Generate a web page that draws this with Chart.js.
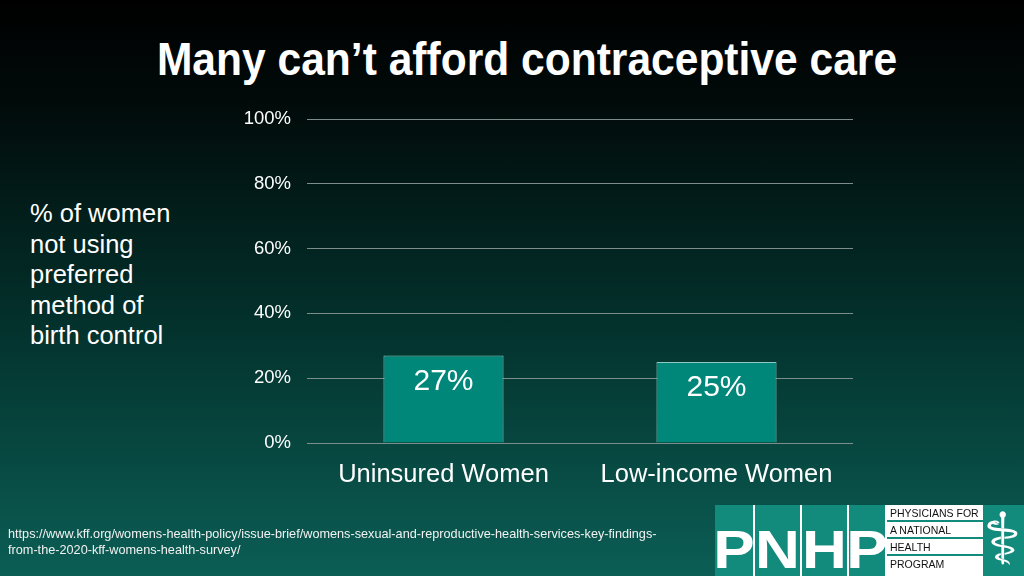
<!doctype html>
<html lang="en">
<head>
    <meta charset="utf-8">
    <title>Many can't afford contraceptive care</title>
    <style>
        html, body {
            margin: 0;
            padding: 0;
        }
        body {
            width: 1024px;
            height: 576px;
            overflow: hidden;
            position: relative;
            font-family: "Liberation Sans", Arial, sans-serif;
            color: #fff;
            background: linear-gradient(to bottom, #000 0%, #010b0a 18%, #03302b 55%, #0b5e55 100%);
        }
        #title {
            position: absolute;
            left: 0;
            width: 1054px;
            top: 32px;
            text-align: center;
            font-weight: bold;
            font-size: 46px;
            transform: scaleX(0.925);
        }
        #sideLabel {
            position: absolute;
            left: 30px;
            top: 198px;
            font-size: 25.5px;
            line-height: 30.5px;
        }
        #source {
            position: absolute;
            left: 8px;
            top: 526px;
            font-size: 12.7px;
            line-height: 16px;
            color: #f2f2f2;
        }
        #chart {
            position: absolute;
            left: 0;
            top: 0;
        }
        /* logo bottom-right */
        #logo {
            position: absolute;
            left: 715px;
            top: 505px;
            width: 309px;
            height: 71px;
            background: #128a7c;
        }
        .letter {
            position: absolute;
            top: 14px;
            font-weight: bold;
            font-size: 54px;
            line-height: 60px;
            color: #fff;
            text-align: center;
            transform: scaleX(1.15);
        }
        .vline {
            position: absolute;
            top: 0;
            width: 2px;
            height: 71px;
            background: #fff;
        }
        #logoBox {
            position: absolute;
            left: 172px;
            top: 0;
            width: 96px;
            height: 71px;
            background: #fff;
            color: #111;
            font-size: 10.5px;
        }
        #logoBox div {
            height: 15px;
            line-height: 16px;
            padding-left: 3px;
            border-bottom: 2px solid #128a7c;
        }
        #staff {
            position: absolute;
            left: 268px;
            top: -6px;
            font-family: "DejaVu Sans", sans-serif;
            font-size: 72px;
            line-height: 80px;
            color: #fff;
        }
    </style>
    <script src="https://cdn.jsdelivr.net/npm/chart.js"></script>
</head>
<body>
<div id="title">Many can’t afford contraceptive care</div>
<div id="sideLabel">% of women<br>not using<br>preferred<br>method of<br>birth control</div>
<canvas id="chart" width="1024" height="576"></canvas>
<div id="source">https://www.kff.org/womens-health-policy/issue-brief/womens-sexual-and-reproductive-health-services-key-findings-<br>from-the-2020-kff-womens-health-survey/</div>

<div id="logo">
    <div class="letter" style="left:0;width:38px">P</div>
    <div class="vline" style="left:38px"></div>
    <div class="letter" style="left:40px;width:45px">N</div>
    <div class="vline" style="left:85px"></div>
    <div class="letter" style="left:87px;width:45px">H</div>
    <div class="vline" style="left:132px"></div>
    <div class="letter" style="left:134px;width:36px">P</div>
    <div class="vline" style="left:170px"></div>
    <div id="logoBox">
        <div>PHYSICIANS FOR</div>
        <div>A NATIONAL</div>
        <div>HEALTH</div>
        <div style="border-bottom:none">PROGRAM</div>
    </div>
    <div id="staff">⚕</div>
</div>

<script>
    const categories = ['Uninsured Women', 'Low-income Women'];
    const percentNotUsing = [27, 25];
    const yTicks = [0, 20, 40, 60, 80, 100];

    // write the value into the top of each bar
    const valueLabels = {
        id: 'valueLabels',
        afterDatasetsDraw(chart) {
            const ctx = chart.ctx;
            const meta = chart.getDatasetMeta(0);
            ctx.save();
            ctx.fillStyle = '#ffffff';
            ctx.font = '30px "Liberation Sans", Arial, sans-serif';
            ctx.textAlign = 'center';
            ctx.textBaseline = 'top';
            meta.data.forEach((bar, i) => {
                ctx.fillText(percentNotUsing[i] + '%', bar.x, bar.y + 11);
            });
            ctx.restore();
        }
    };

    const ctx = document.getElementById('chart').getContext('2d');
    new Chart(ctx, {
        type: 'bar',
        data: {
            labels: categories,
            datasets: [{
                data: percentNotUsing,
                backgroundColor: '#00877a',
                borderColor: '#8ccbc2',
                borderWidth: 1,
                categoryPercentage: 1,
                barPercentage: 0.44
            }]
        },
        plugins: [valueLabels],
        options: {
            responsive: false,
            animation: false,
            layout: {
                padding: {left: 230, right: 171, top: 119, bottom: 0}
            },
            plugins: {
                legend: {display: false},
                tooltip: {enabled: false}
            },
            scales: {
                x: {
                    grid: {display: false},
                    border: {display: false},
                    ticks: {
                        color: '#ffffff',
                        padding: 9,
                        font: {family: '"Liberation Sans", Arial, sans-serif', size: 25.5}
                    },
                    afterFit(scale) {
                        scale.height = 133;
                    }
                },
                y: {
                    min: 0,
                    max: 100,
                    afterBuildTicks(scale) {
                        scale.ticks = yTicks.map(v => ({value: v}));
                    },
                    grid: {
                        color: '#7d8e8a',
                        lineWidth: 1,
                        drawTicks: false
                    },
                    border: {display: false},
                    ticks: {
                        color: '#ffffff',
                        padding: 16,
                        font: {family: '"Liberation Sans", Arial, sans-serif', size: 18.5},
                        callback: v => v + '%'
                    },
                    afterFit(scale) {
                        scale.width = 77;
                    }
                }
            }
        }
    });
</script>
</body>
</html>
